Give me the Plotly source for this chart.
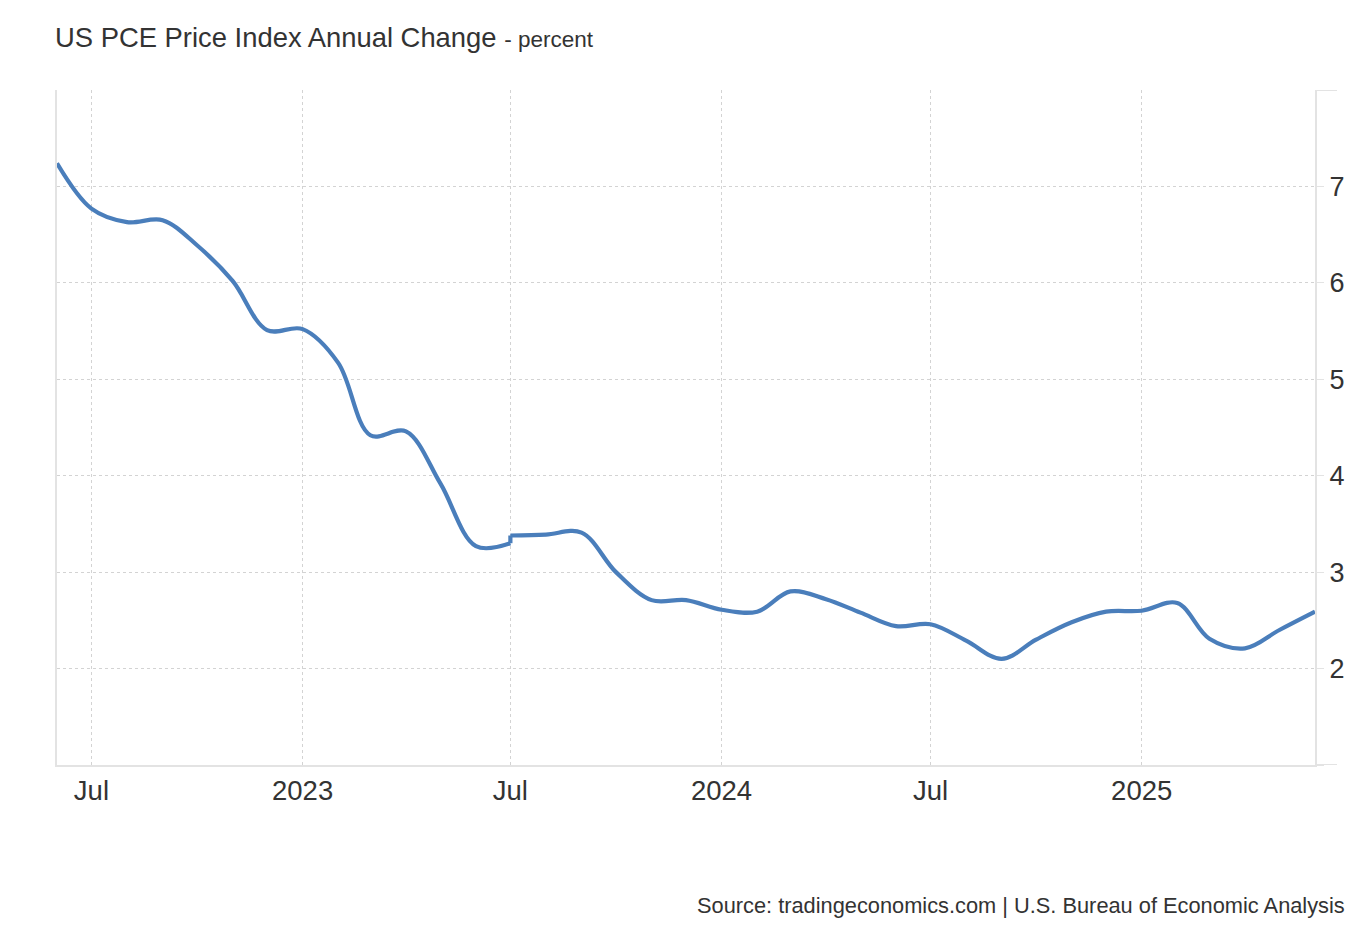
import plotly.graph_objects as go

# July 2023 appears twice: the series steps up at that month.
dates = [
    "2022-06-01", "2022-07-01", "2022-08-01", "2022-09-01", "2022-10-01", "2022-11-01", "2022-12-01",
    "2023-01-01", "2023-02-01", "2023-03-01", "2023-04-01", "2023-05-01", "2023-06-01",
    "2023-07-01", "2023-07-01",
    "2023-08-01", "2023-09-01", "2023-10-01", "2023-11-01", "2023-12-01",
    "2024-01-01", "2024-02-01", "2024-03-01", "2024-04-01", "2024-05-01", "2024-06-01",
    "2024-07-01", "2024-08-01", "2024-09-01", "2024-10-01", "2024-11-01", "2024-12-01",
    "2025-01-01", "2025-02-01", "2025-03-01", "2025-04-01", "2025-05-01", "2025-06-01",
]
values = [
    7.24, 6.77, 6.63, 6.65, 6.39, 6.02, 5.51,
    5.52, 5.17, 4.42, 4.46, 3.92, 3.27,
    3.30, 3.38,
    3.39, 3.41, 3.00, 2.71, 2.71,
    2.61, 2.59, 2.80, 2.72, 2.58, 2.44,
    2.46, 2.29, 2.10, 2.30, 2.48, 2.59,
    2.60, 2.68, 2.31, 2.21, 2.40, 2.59,
]
step_index = 14  # first point after the step

x_tick_vals = ["2022-07-01", "2023-01-01", "2023-07-01", "2024-01-01", "2024-07-01", "2025-01-01"]
x_tick_text = ["Jul", "2023", "Jul", "2024", "Jul", "2025"]
y_tick_vals = [1, 2, 3, 4, 5, 6, 7, 8]
y_tick_text = ["", "2", "3", "4", "5", "6", "7", ""]

title_main = "US PCE Price Index Annual Change"
title_unit = "- percent"
source_text = "Source: tradingeconomics.com | U.S. Bureau of Economic Analysis"

FONT = "Liberation Sans, Arial, sans-serif"
TEXT = "#333333"
AXIS = "#e3e3e3"
GRID = "#d3d3d3"
LINE = "#4a7ebb"

# page body has an 8px margin, so the figure is sized/placed accordingly
W, H = 1362, 928
L, R, T, B = 49, 55, 82, 171
PW, PH = W - L - R, H - T - B

fig = go.Figure()
line_style = dict(color=LINE, width=4.2, shape="spline", smoothing=1.0)
fig.add_trace(go.Scatter(
    x=dates[:step_index], y=values[:step_index], mode="lines",
    line=line_style, hoverinfo="x+y", showlegend=False,
))
fig.add_trace(go.Scatter(
    x=dates[step_index - 1:step_index + 1], y=values[step_index - 1:step_index + 1], mode="lines",
    line=dict(color=LINE, width=4.2), hoverinfo="skip", showlegend=False,
))
fig.add_trace(go.Scatter(
    x=dates[step_index:], y=values[step_index:], mode="lines",
    line=line_style, hoverinfo="x+y", showlegend=False,
))

fig.update_layout(
    width=W, height=H,
    margin=dict(l=L, r=R, t=T, b=B),
    paper_bgcolor="white", plot_bgcolor="white",
    font=dict(family=FONT, color=TEXT, size=27),
    title=dict(
        text=f"{title_main} <span style='font-size:22.5px'>{title_unit}</span>",
        x=47 / W, xanchor="left", y=1 - 29 / H, yanchor="middle",
        font=dict(family=FONT, size=27.4, color=TEXT),
    ),
    xaxis=dict(
        type="date",
        range=[dates[0], dates[-1]],
        tickmode="array", tickvals=x_tick_vals, ticktext=x_tick_text,
        showgrid=True, gridcolor=GRID, griddash="dot", gridwidth=1,
        showline=True, linecolor=AXIS, linewidth=2,
        ticks="", tickfont=dict(size=27.5, color=TEXT),
        zeroline=False, fixedrange=True,
    ),
    yaxis=dict(
        side="right",
        range=[1, 8],
        tickmode="array", tickvals=y_tick_vals, ticktext=y_tick_text,
        showgrid=True, gridcolor=GRID, griddash="dot", gridwidth=1,
        showline=True, mirror=True, linecolor=AXIS, linewidth=2,
        ticks="outside", ticklen=7, tickcolor=AXIS, tickwidth=1,
        tickfont=dict(size=27, color=TEXT),
        zeroline=False, fixedrange=True,
    ),
    annotations=[dict(
        text=source_text, xref="paper", yref="paper",
        x=(1347 - 57) / PW, y=(765 - 905) / PH,
        xanchor="right", yanchor="middle", showarrow=False,
        font=dict(family=FONT, size=21.8, color=TEXT),
    )],
    shapes=[
        dict(type="line", xref="paper", yref="y", x0=1, x1=1 + 22 / PW, y0=8, y1=8,
             line=dict(color=AXIS, width=2)),
        dict(type="line", xref="paper", yref="y", x0=1, x1=1 + 22 / PW, y0=1, y1=1,
             line=dict(color=AXIS, width=2)),
    ],
)

fig.write_html("out.html")
